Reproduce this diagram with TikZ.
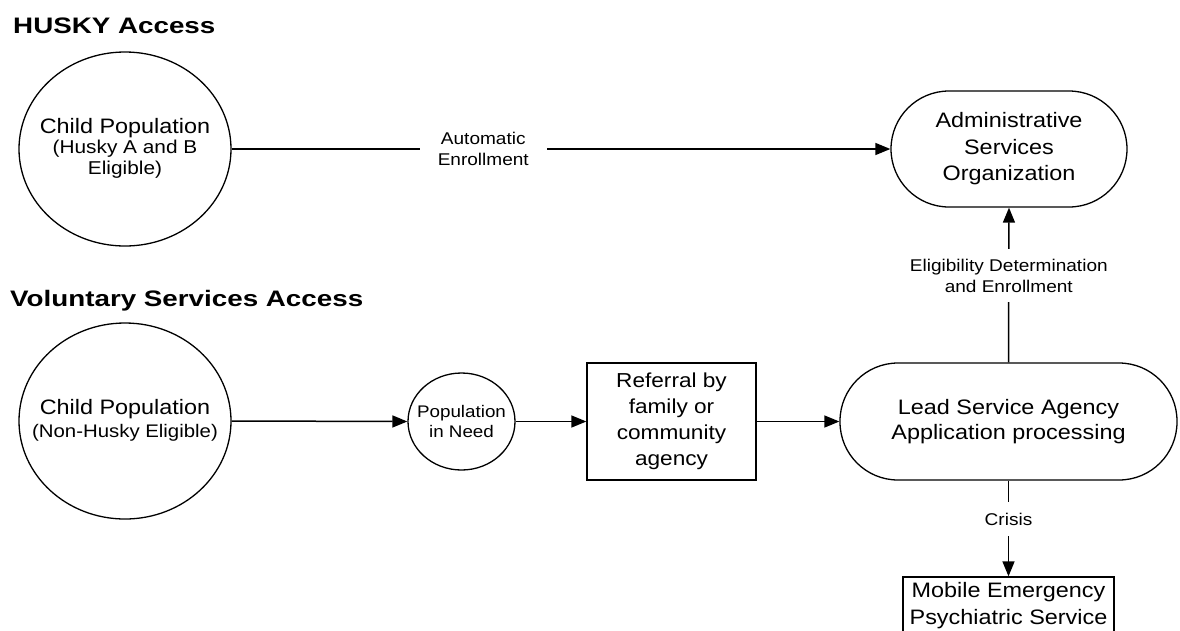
\documentclass[tikz,border=0pt]{standalone}
\usepackage{fontspec}
\setmainfont[FakeStretch=1.12]{Liberation Sans}
\newfontfamily\titlefont[FakeStretch=1.24]{Liberation Sans}
\usetikzlibrary{arrows.meta,shapes.geometric}
\newcommand{\fsz}[2]{\fontsize{#1}{#2}\selectfont}
\tikzset{
  every node/.style={inner sep=0pt, align=center},
  conn/.style={line width=1.5pt, -{Triangle[length=15pt,width=12pt]}},
  elnode/.style={draw, ellipse, line width=1.3pt, inner sep=0pt},
  boxnode/.style={draw, rectangle, line width=1.3pt, inner sep=0pt},
  stadium/.style={draw, rectangle, rounded corners=58pt, line width=1.3pt, inner sep=0pt},
  lbl/.style={fill=white, font=\fsz{17}{20.5}},
  title/.style={anchor=base west, font=\titlefont\bfseries\fsz{22.4}{26}},
  maintext/.style={font=\fsz{20.9}{25.5}}
}
\begin{document}
\begin{tikzpicture}[x=1pt, y=-1pt]
\useasboundingbox (0,0) rectangle (1180,630);
\clip (0,0) rectangle (1180,630);

\node[title] (t1) at (13,33) {HUSKY Access};
\node[title] (t2) at (10,306) {Voluntary Services Access};

% shapes
\node[elnode, minimum width=212pt, minimum height=194pt] (c1) at (125,149) {};
\node[elnode, minimum width=212pt, minimum height=196pt] (c2) at (125,421) {};
\node[elnode, minimum width=107pt, minimum height=97pt] (pn) at (461.5,421.5) {};
\node[boxnode, minimum width=169pt, minimum height=117pt] (ref) at (671.5,421.5) {};
\node[stadium, minimum width=337pt, minimum height=117pt] (lead) at (1008.5,421.5) {};
\node[stadium, minimum width=236pt, minimum height=116pt] (aso) at (1009,149) {};
\node[boxnode, minimum width=211pt, minimum height=58pt] (mob) at (1008.5,606) {};

% texts
\node[font=\fsz{18.6}{20.5}] (c1t) at ([yshift=1pt]c1.center)
  {\fsz{20.9}{24}Child Population\\(Husky A and B\\Eligible)};
\node[font=\fsz{18.2}{23}] (c2t) at ([yshift=1pt]c2.center)
  {\fsz{20.9}{24}Child Population\\(Non-Husky Eligible)};
\node[font=\fsz{16.8}{20}] (pnt) at (pn.center) {Population\\in Need};
\node[font=\fsz{20.2}{26}] (reft) at (ref.center) {Referral by\\family or\\community\\agency};
\node[font=\fsz{20.9}{25}] (leadt) at (lead.center) {Lead Service Agency\\Application processing};
\node[font=\fsz{20.9}{26.5}] (asot) at (aso.center) {Administrative\\Services\\Organization};
\node[font=\fsz{20.9}{27}] (mobt) at (mob.center) {Mobile Emergency\\Psychiatric Service};

% connectors
\draw[conn] (c1.east) -- node[lbl, pos=0.382, inner xsep=18pt] (l1) {Automatic\\Enrollment} (aso.west);
\draw[conn] (lead.north) -- node[lbl, pos=0.56, inner ysep=10pt] (l2) {Eligibility Determination\\and Enrollment} (aso.south);
\draw[conn] (lead.south) -- node[lbl, pos=0.40, inner ysep=11pt] (l3) {Crisis} (mob.north);
\draw[conn] (c2.east) -- (pn.west);
\draw[conn] (pn.east) -- (ref.west);
\draw[conn] (ref.east) -- (lead.west);
\end{tikzpicture}
\end{document}
